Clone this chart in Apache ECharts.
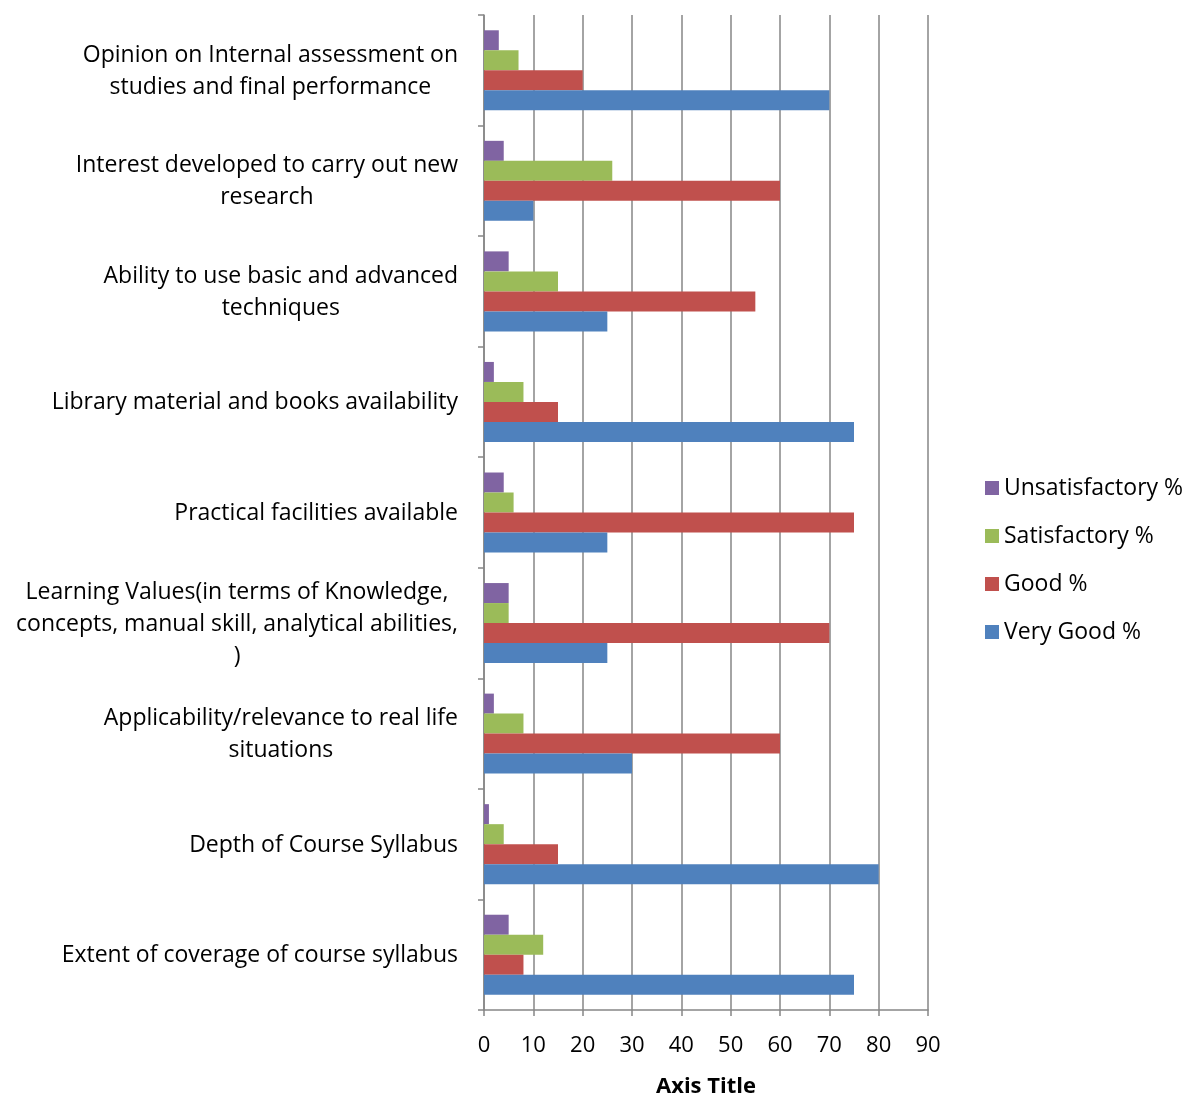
<!DOCTYPE html>
<html>
<head>
<meta charset="utf-8">
<script src="https://cdn.jsdelivr.net/npm/echarts@6/dist/echarts.min.js"></script>
<style>
html,body{margin:0;padding:0;background:#fff;}
#chart{width:1189px;height:1098px;}
</style>
</head>
<body>
<div id="chart"></div>
<script>
// Categories listed bottom to top (ECharts category y-axis starts at the bottom)
const categories = [
  'Extent of coverage of course syllabus',
  'Depth of Course Syllabus',
  'Applicability/relevance to real life\nsituations',
  'Learning Values(in terms of Knowledge,\nconcepts, manual skill, analytical abilities,\n)',
  'Practical facilities available',
  'Library material and books availability',
  'Ability to use basic and advanced\ntechniques',
  'Interest developed to carry out new\nresearch',
  'Opinion on Internal assessment on\nstudies and final performance'
];
const unsatisfactory = [5, 1, 2, 5, 4, 2, 5, 4, 3];
const satisfactory   = [12, 4, 8, 5, 6, 8, 15, 26, 7];
const good           = [8, 15, 60, 70, 75, 15, 55, 60, 20];
const veryGood       = [75, 80, 30, 25, 25, 75, 25, 10, 70];
const seriesNames = ['Unsatisfactory %', 'Satisfactory %', 'Good %', 'Very Good %'];
const xTicks = { min: 0, max: 90, interval: 10 };
const axisTitle = 'Axis Title';

const FONT = 'Open Sans';
const chart = echarts.init(document.getElementById('chart'), null, { renderer: 'canvas' });
const colors = ['#8064A2', '#9BBB59', '#C0504D', '#4F81BD'];
const values = [unsatisfactory, satisfactory, good, veryGood];

chart.setOption({
  animation: false,
  backgroundColor: '#ffffff',
  grid: { left: 484, right: 261, top: 15, bottom: 88, containLabel: false, outerBoundsMode: 'none' },
  legend: {
    orient: 'vertical',
    left: 980,
    top: 471,
    itemWidth: 14,
    itemHeight: 14,
    itemGap: 24,
    icon: 'rect',
    data: seriesNames,
    textStyle: { fontFamily: FONT, fontSize: 23, color: '#000', lineHeight: 24 }
  },
  xAxis: {
    type: 'value',
    min: xTicks.min, max: xTicks.max, interval: xTicks.interval,
    name: axisTitle,
    nameLocation: 'middle',
    nameGap: 66,
    nameTextStyle: { fontFamily: FONT, fontSize: 22, fontWeight: 'bold', color: '#000' },
    axisLine: { show: true, lineStyle: { color: '#868686', width: 1.5 } },
    axisTick: { show: true, length: 6, lineStyle: { color: '#868686', width: 1.5 } },
    axisLabel: { fontFamily: FONT, fontSize: 22, color: '#000', margin: 25 },
    splitLine: { show: true, lineStyle: { color: '#868686', width: 1.5 } }
  },
  yAxis: {
    type: 'category',
    data: categories,
    axisLine: { show: true, lineStyle: { color: '#868686', width: 1.5 } },
    axisTick: { show: true, length: 6, lineStyle: { color: '#868686', width: 1.5 } },
    axisLabel: {
      align: 'right',
      margin: 26,
      fontFamily: FONT,
      fontSize: 23,
      color: '#000',
      lineHeight: 32,
      padding: [2, 0, 0, 0],
      formatter: function (v) {
        return v.split('\n').map(function (l) { return '{c|' + l + '}'; }).join('\n');
      },
      rich: { c: { align: 'center', fontFamily: FONT, fontSize: 23, lineHeight: 32, color: '#000' } }
    }
  },
  series: seriesNames.map(function (n, i) {
    return {
      name: n,
      type: 'bar',
      data: values[i],
      barWidth: 20,
      barGap: '0%',
      itemStyle: { color: colors[i] }
    };
  })
});
</script>
</body>
</html>
